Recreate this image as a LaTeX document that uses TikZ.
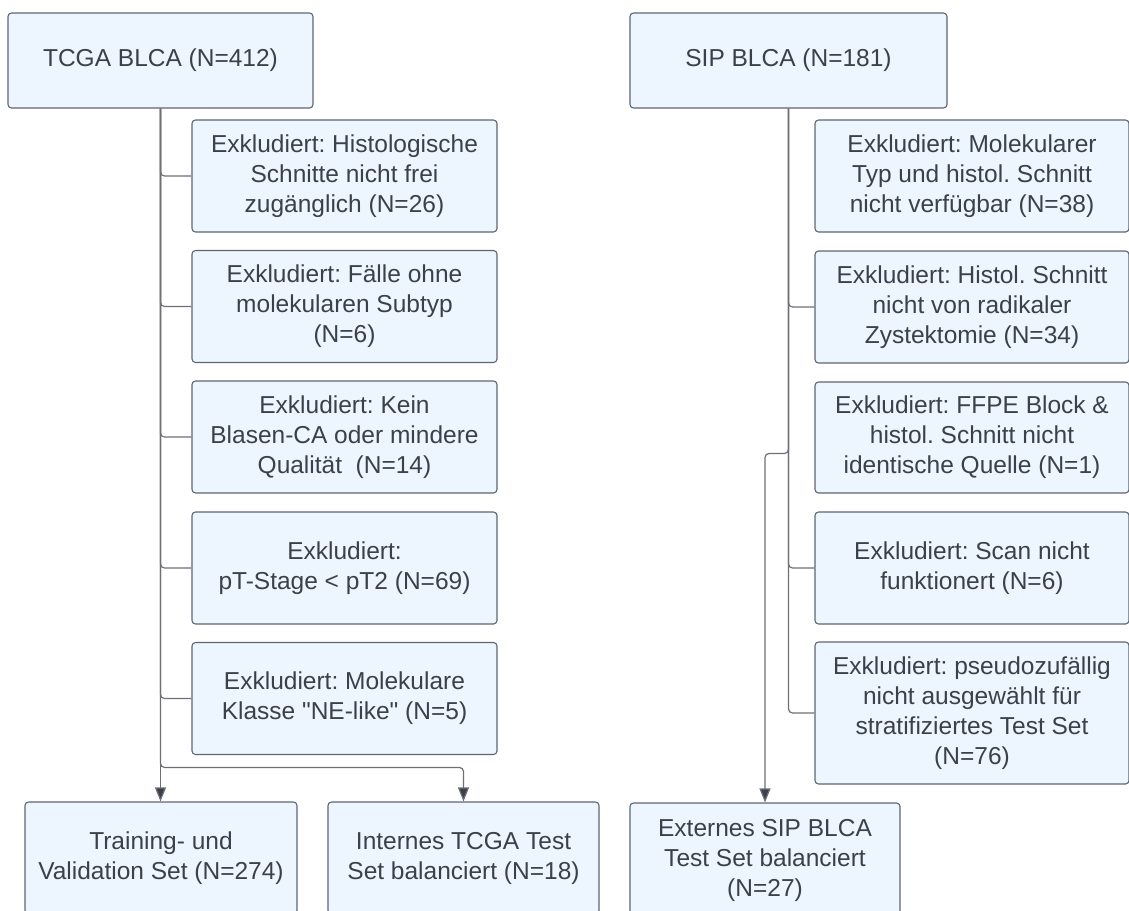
\documentclass[tikz,border=0pt]{standalone}
\usepackage{fontspec}
\setmainfont{Liberation Sans}[Ligatures=TeXOff]
\usetikzlibrary{arrows.meta,calc}
\definecolor{boxfill}{HTML}{EDF5FF}
\definecolor{boxline}{HTML}{5E6675}
\definecolor{txt}{HTML}{3A414A}
\definecolor{conn}{HTML}{6E7075}
\frenchspacing
\begin{document}
\begin{tikzpicture}[x=1pt,y=-1pt,
  flowbox/.style={draw=boxline, fill=boxfill, line width=1.1pt, rounded corners=3.5pt,
    inner sep=0pt, align=center, text=txt,
    font=\fontsize{24.5}{30}\selectfont\frenchspacing},
  conline/.style={draw=conn, line width=1.2pt, rounded corners=4pt},
  conarrow/.style={conline, -{Triangle[width=11pt,length=14pt,fill=txt]}},
]
\useasboundingbox (0,0) rectangle (1129,910);
\clip (0,0) rectangle (1129,910);
% top boxes
\node[flowbox, minimum width=305, minimum height=95] (tcga) at (160.5,60.5) {TCGA BLCA (N=412)};
\node[flowbox, minimum width=317, minimum height=95] (sip) at (788.5,60.5) {SIP BLCA (N=181)};
% left exclusions
\node[flowbox, minimum width=305, minimum height=112] (lx1) at (344.5,176) {Exkludiert: Histologische\\Schnitte nicht frei\\zugänglich (N=26)};
\node[flowbox, minimum width=305, minimum height=112] (lx2) at (344.5,306.5) {Exkludiert: Fälle ohne\\molekularen Subtyp\\(N=6)};
\node[flowbox, minimum width=305, minimum height=112] (lx3) at (344.5,437) {Exkludiert: Kein\\Blasen-CA oder mindere\\Qualität~ (N=14)};
\node[flowbox, minimum width=305, minimum height=112] (lx4) at (344.5,568) {Exkludiert:\\pT-Stage < pT2 (N=69)};
\node[flowbox, minimum width=305, minimum height=112] (lx5) at (344.5,698.5) {Exkludiert: Molekulare\\Klasse "NE-like" (N=5)};
% right exclusions
\node[flowbox, minimum width=314, minimum height=112] (rx1) at (972,176) {Exkludiert: Molekularer\\Typ und histol. Schnitt\\nicht verfügbar (N=38)};
\node[flowbox, minimum width=314, minimum height=112] (rx2) at (972,307) {Exkludiert: Histol. Schnitt\\nicht von radikaler\\Zystektomie (N=34)};
\node[flowbox, minimum width=314, minimum height=111] (rx3) at (972,437.5) {Exkludiert: FFPE Block \&\\histol. Schnitt nicht\\identische Quelle (N=1)};
\node[flowbox, minimum width=314, minimum height=112] (rx4) at (972,568) {Exkludiert: Scan nicht\\funktionert (N=6)};
\node[flowbox, minimum width=314, minimum height=142] (rx5) at (972,713) {Exkludiert: pseudozufällig\\nicht ausgewählt für\\stratifiziertes Test Set\\(N=76)};
% bottom boxes
\node[flowbox, minimum width=272, minimum height=112] (train) at (161,858) {Training- und\\Validation Set (N=274)};
\node[flowbox, minimum width=271, minimum height=112] (intern) at (463.5,858) {Internes TCGA Test\\Set balanciert (N=18)};
\node[flowbox, minimum width=270, minimum height=114] (extern) at (765,860) {Externes SIP BLCA\\Test Set balanciert\\(N=27)};
% left connectors
\draw[conline] (tcga.south) |- (lx1.west);
\draw[conline] (tcga.south) |- (lx2.west);
\draw[conline] (tcga.south) |- (lx3.west);
\draw[conline] (tcga.south) |- (lx4.west);
\draw[conline] (tcga.south) |- (lx5.west);
\draw[conarrow] (tcga.south) -- (tcga.south |- train.north);
\draw[conarrow] (tcga.south) |- ($(intern.north)+(0,-34)$) -- (intern.north);
% right connectors
\draw[conline] (sip.south) |- (rx2.west);
\draw[conline] (sip.south) |- (rx4.west);
\draw[conline] (sip.south) |- (rx5.west);
\draw[conarrow] (sip.south) |- ($(extern.north)+(0,-349)$) -- (extern.north);
\end{tikzpicture}
\end{document}
